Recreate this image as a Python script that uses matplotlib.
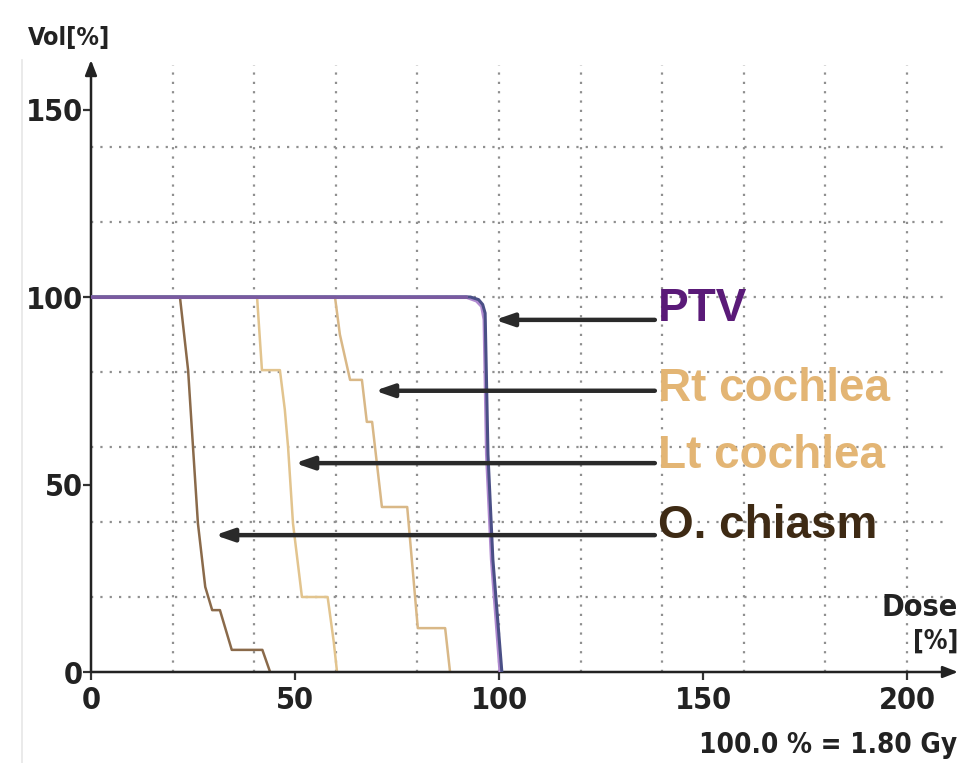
import matplotlib
matplotlib.use("Agg")
import matplotlib.pyplot as plt
from matplotlib import font_manager as fm

# ---------------- data ----------------
ptv_dose = [0, 93.0, 95.0, 96.0, 96.6, 97.3, 98.5, 100.7]
ptv_vol = [100, 100, 99.3, 98.0, 95.7, 58.0, 30.0, 0]
ptv2_dose = [0, 92.0, 94.5, 95.8, 96.4, 97.0, 98.2, 100.3]
ptv2_vol = [100, 100, 99.0, 97.5, 94.0, 58.0, 30.0, 0]

rt_dose = [0, 59.8, 61.0, 63.5, 66.4, 67.6, 68.9, 71.3, 77.5, 80.1, 86.8, 88.0]
rt_vol = [100, 100, 90.0, 77.9, 77.9, 66.7, 66.7, 44.0, 44.0, 11.7, 11.7, 0]

lt_dose = [0, 40.7, 41.9, 46.3, 47.5, 48.3, 49.5, 51.7, 58.0, 59.5, 60.3]
lt_vol = [100, 100, 80.5, 80.5, 70.0, 60.0, 39.7, 20.0, 20.0, 8.0, 0]

ch_dose = [0, 21.8, 23.8, 25.0, 26.2, 28.0, 29.7, 31.6, 34.5, 42.0, 43.9]
ch_vol = [100, 100, 80.5, 60.0, 39.7, 22.7, 16.5, 16.5, 5.9, 5.9, 0]

labels = ["PTV", "Rt cochlea", "Lt cochlea", "O. chiasm"]
label_colors = ["#5a1a78", "#e3b574", "#e3b574", "#3e2a14"]
label_y = [96.8, 75.5, 57.5, 39.0]
arrow_y = [93.9, 75.0, 55.7, 36.5]
arrow_tip = [99.0, 69.6, 50.0, 30.4]

x_ticks = [0, 50, 100, 150, 200]
y_ticks = [0, 50, 100, 150]
grid_x = [20, 40, 60, 80, 100, 120, 140, 160, 180, 200]
grid_y = [20, 40, 60, 80, 100, 120, 140]

# ---------------- fonts ----------------
cond = None
for f in fm.fontManager.ttflist:
    if f.name == "DejaVu Sans" and f.stretch == "condensed" and f.weight in (700, "bold"):
        cond = fm.FontProperties(fname=f.fname)
        break
if cond is None:
    for f in fm.fontManager.ttflist:
        if ("Narrow" in f.name or "Condensed" in f.name) and f.weight in (700, "bold"):
            cond = fm.FontProperties(fname=f.fname)
            break
if cond is None:
    cond = fm.FontProperties(family="Liberation Sans", weight="bold")

def cfp(size):
    p = cond.copy()
    p.set_size(size)
    return p

label_font = "Liberation Sans"

W, H = 979, 763
fig = plt.figure(figsize=(W / 100, H / 100), dpi=100)
fig.patch.set_facecolor("white")

x0, x1 = 91, 958
y0, y1 = 672, 60
ax = fig.add_axes([x0 / W, 1 - y0 / H, (x1 - x0) / W, (y0 - y1) / H])
xmax = (x1 - x0) / 4.08
ymax = (y0 - y1) / 3.75
ax.set_xlim(0, xmax)
ax.set_ylim(0, ymax)
for s in ax.spines.values():
    s.set_visible(False)
ax.set_facecolor("none")

# grid
grid_kw = dict(color="#8f8f8f", linewidth=1.6, linestyle=(0, (1, 3.2)), zorder=1)
ax.vlines(grid_x, 0, 162, **grid_kw)
ax.hlines(grid_y, 0, 208.8, **grid_kw)

# curves
ax.plot(ch_dose, ch_vol, color="#8a6a4a", lw=1.8, zorder=3)
ax.plot(lt_dose, lt_vol, color="#e2c48e", lw=1.8, zorder=3)
ax.plot(rt_dose, rt_vol, color="#d9b887", lw=1.8, zorder=3)
ax.plot(ptv2_dose, ptv2_vol, color="#b08ad0", lw=2.6, zorder=4)
ax.plot(ptv_dose, ptv_vol, color="#4a4f86", lw=2.2, zorder=5)
ax.plot([0, 92], [100, 100], color="#7a5aa0", lw=2.2, zorder=5)

# axes with arrows
axis_arrow = dict(arrowstyle="-|>,head_length=0.9,head_width=0.35",
                  color="#222222", lw=1.8, shrinkA=0, shrinkB=0)
ax.annotate("", xy=(0, ymax), xytext=(0, 0), arrowprops=axis_arrow,
            annotation_clip=False)
ax.annotate("", xy=(xmax, 0), xytext=(0, 0), arrowprops=axis_arrow,
            annotation_clip=False)

# ticks
ax.set_xticks(x_ticks)
ax.set_yticks(y_ticks)
ax.tick_params(axis="both", direction="out", length=6, width=1.6, color="#333333")
ax.tick_params(axis="x", pad=4)
ax.tick_params(axis="y", pad=0)
for lab in ax.get_xticklabels() + ax.get_yticklabels():
    lab.set_fontproperties(cfp(22))
    lab.set_color("#222222")

# labels and arrows
for lab, col, ly, ay, tip in zip(labels, label_colors, label_y, arrow_y, arrow_tip):
    ax.text(139.0, ly, lab, color=col, fontsize=33, fontweight="bold",
            family=label_font, ha="left", va="center", zorder=6)
    ax.annotate("", xy=(tip, ay), xytext=(138.2, ay),
                arrowprops=dict(arrowstyle="-|>,head_length=1.1,head_width=0.38",
                                color="#2a2a2a", lw=3.2, shrinkA=0, shrinkB=0),
                zorder=6)

# axis titles
fig.text(28 / W, 1 - 38 / H, "Vol[%]", fontproperties=cfp(18),
         ha="left", va="center", color="#222222")
fig.text(958 / W, 1 - 607 / H, "Dose", fontproperties=cfp(22),
         ha="right", va="center", color="#222222")
fig.text(958 / W, 1 - 642 / H, "[%]", fontproperties=cfp(19),
         ha="right", va="center", color="#222222")
fig.text(957 / W, 1 - 745 / H, "100.0 % = 1.80 Gy", fontproperties=cfp(20),
         ha="right", va="center", color="#222222")

# faint left border
fig.add_artist(plt.Line2D([22 / W, 22 / W], [0, 1 - 60 / H], color="#e6e6e6", lw=1.2))

fig.savefig("out.png", dpi=100, facecolor="white")
